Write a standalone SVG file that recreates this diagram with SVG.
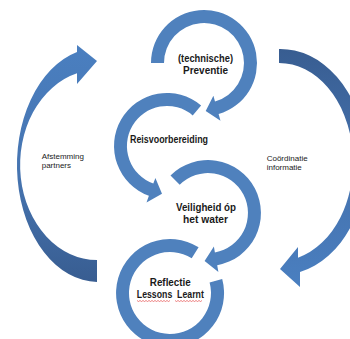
<svg xmlns="http://www.w3.org/2000/svg" width="350" height="339" viewBox="0 0 350 339">
<defs>
<style>
.ring{fill:#4f81bd;}
.lbl{font-family:"Liberation Sans",Arial,sans-serif;font-weight:bold;font-size:10.5px;fill:#1a1a1a;text-anchor:middle;white-space:pre;}
.sm{font-family:"Liberation Sans",Arial,sans-serif;font-size:8px;fill:#222;}
.squig{fill:none;stroke:#e03030;stroke-width:0.6;}
</style>
<linearGradient id="gL" gradientUnits="userSpaceOnUse" x1="0" y1="45" x2="0" y2="282">
<stop offset="0" stop-color="#4a7fc0"/><stop offset="0.55" stop-color="#4674b0"/><stop offset="1" stop-color="#385d91"/>
</linearGradient>
<linearGradient id="gR" gradientUnits="userSpaceOnUse" x1="0" y1="49" x2="0" y2="287">
<stop offset="0" stop-color="#385d91"/><stop offset="0.45" stop-color="#4470ab"/><stop offset="1" stop-color="#4a7fc0"/>
</linearGradient>
</defs>
<rect width="350" height="339" fill="#ffffff"/>
<g id="connectors">
<path id="arrow-left" fill="url(#gL)" d="M97 282 A81 117 0 0 1 77 52 L77 45 L97 61 L77 84 L77 73.3 A77 95 0 0 0 97 260 Z"/>
<path id="arrow-right" fill="url(#gR)" d="M279 49 A86 113 0 0 1 300 272 L300 287 L280 269 L298 247 L298 257.7 A74 99 0 0 0 279 63 Z"/>
<text class="sm" x="41.7" y="159.3">Afstemming</text>
<text class="sm" x="41.7" y="168">partners</text>
<text class="sm" x="266.7" y="160.7">Coördinatie</text>
<text class="sm" x="266.7" y="170">informatie</text>
</g>
<g id="node-preventie">
<path class="ring" d="M151 63 A53 53 0 1 1 218.6 114 L220.5 120.7 L205.7 111 L213.4 95.7 L215 101.5 A40 40 0 1 0 164 63 Z"/>
<text class="lbl" x="205.5" y="61.5" textLength="55" lengthAdjust="spacingAndGlyphs">(technische)</text>
<text class="lbl" x="205.5" y="73.5" textLength="45" lengthAdjust="spacingAndGlyphs">Preventie</text>
</g>
<g id="node-reisvoorbereiding">
<path class="ring" d="M201.1 105.4 A53 53 0 1 0 148.9 195.8 L146.5 202.4 L162 193.7 L155.4 178 L153.3 183.6 A40 40 0 1 1 192.7 115.4 Z"/>
<text class="lbl" x="169" y="142.5" textLength="78" lengthAdjust="spacingAndGlyphs">Reisvoorbereiding</text>
</g>
<g id="node-veiligheid">
<path class="ring" d="M170.5 175.5 A53 53 0 1 1 217.2 265.2 L218.4 272.1 L204.6 260.9 L213.9 246.5 L214.9 252.4 A40 40 0 1 0 179.7 184.7 Z"/>
<text class="lbl" x="206" y="210.7" textLength="60" lengthAdjust="spacingAndGlyphs">Veiligheid óp</text>
<text class="lbl" x="205.5" y="223.3" textLength="45" lengthAdjust="spacingAndGlyphs">het water</text>
</g>
<g id="node-reflectie">
<path class="ring" d="M222.2 279 A54 54 0 1 1 198.6 247.2 L191.7 258.2 A41 41 0 1 0 209.6 282.4 Z"/>
<text class="lbl" x="170.3" y="285.7" textLength="41" lengthAdjust="spacingAndGlyphs">Reflectie</text>
<text class="lbl" x="170.3" y="298.3" textLength="67" lengthAdjust="spacingAndGlyphs">Lessons  Learnt</text>
<path class="squig" d="M137 300.5 l1.5 1 l1.5 -1 l1.5 1 l1.5 -1 l1.5 1 l1.5 -1 l1.5 1 l1.5 -1 l1.5 1 l1.5 -1 l1.5 1 l1.5 -1 l1.5 1 l1.5 -1 l1.5 1 l1.5 -1 l1.5 1 l1.5 -1 l1.5 1 l1.5 -1 l1.5 1 l1.5 -1"/>
<path class="squig" d="M175 300.5 l1.5 1 l1.5 -1 l1.5 1 l1.5 -1 l1.5 1 l1.5 -1 l1.5 1 l1.5 -1 l1.5 1 l1.5 -1 l1.5 1 l1.5 -1 l1.5 1 l1.5 -1 l1.5 1 l1.5 -1 l1.5 1 l1.5 -1"/>
</g>
</svg>
